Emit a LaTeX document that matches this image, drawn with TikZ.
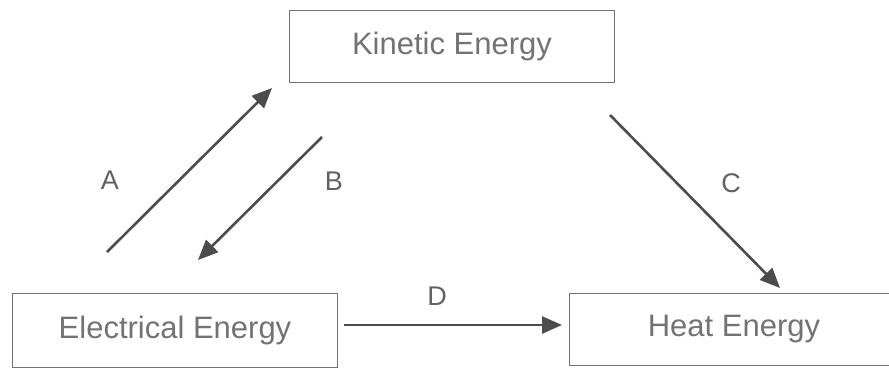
\documentclass[tikz,border=0pt]{standalone}
\usepackage{fontspec}
\setmainfont{Liberation Sans}
\usetikzlibrary{arrows.meta}
\begin{document}
\begin{tikzpicture}[x=1pt,y=-1pt,
  ebox/.style={draw=black!55, line width=0.9pt, minimum height=72pt, inner sep=0pt, font=\fontsize{31}{32}\selectfont, text=black!55},
  flow/.style={draw=black!70, line width=2.6pt, -{Triangle[length=20pt,width=17pt]}},
  lbl/.style={font=\fontsize{27}{28}\selectfont, text=black!62}]
\useasboundingbox (0,0) rectangle (889,370);
\node[ebox, minimum width=325pt] (kin) at (452,46) {Kinetic Energy};
\node[ebox, minimum width=325pt, minimum height=74pt] (ele) at (175,330) {Electrical Energy};
\node[ebox, minimum width=350pt] (heat) at (744,329) {};
\node[font=\fontsize{31}{32}\selectfont, text=black!55] (heatt) at (734,329) {Heat Energy};
\coordinate (a1) at (107,252);
\coordinate (a2) at (272,88);
\coordinate (b1) at (322,137);
\coordinate (b2) at (198,260);
\coordinate (c1) at (610,115);
\coordinate (c2) at (780,288);
\coordinate (d1) at (344,325);
\coordinate (d2) at (562,325);
\draw[flow] (a1) -- (a2);
\draw[flow] (b1) -- (b2);
\draw[flow] (c1) -- (c2);
\draw[flow] (d1) -- (d2);
\node[lbl] (la) at (110,180) {A};
\node[lbl] (lb) at (334,181) {B};
\node[lbl] (lc) at (731,183) {C};
\node[lbl] (ld) at (437,296) {D};
\end{tikzpicture}
\end{document}
